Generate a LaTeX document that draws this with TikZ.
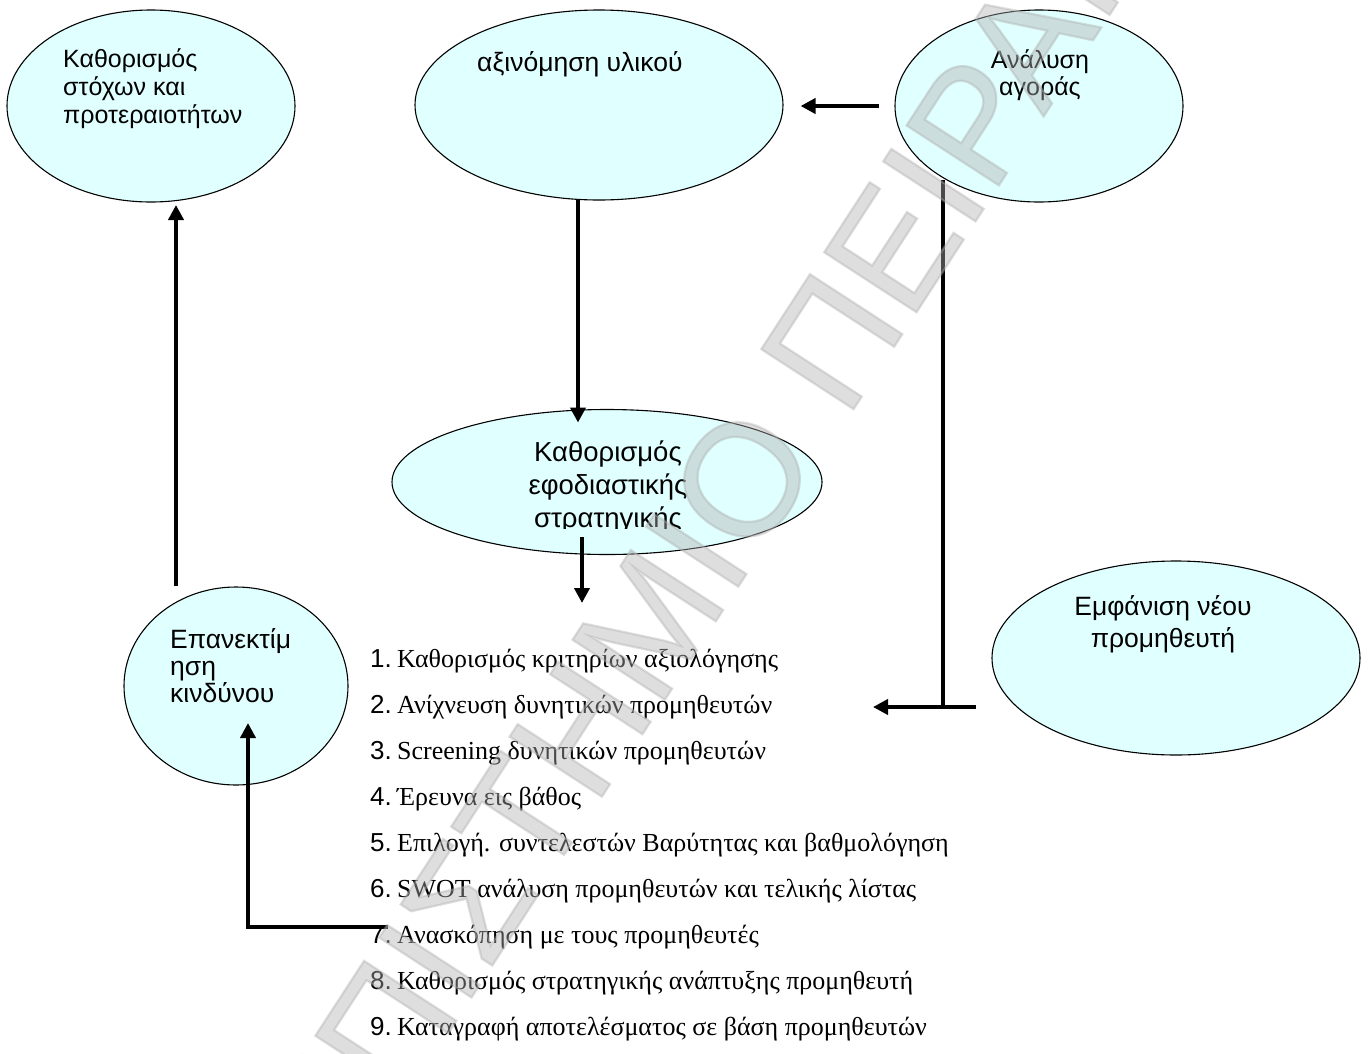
\documentclass[tikz,border=0pt]{standalone}
\usepackage{fontspec}
\setmainfont{Liberation Sans}
\newfontfamily\tmsfont{Liberation Serif}
\newfontfamily\wmfont{Liberation Sans}[FakeBold=1.4]
\usetikzlibrary{arrows.meta,shapes.geometric}
\definecolor{ellfill}{RGB}{224,255,255}
\tikzset{
  bubble/.style={ellipse, draw=black, line width=1.1pt, fill=ellfill, inner sep=0pt},
  btxt/.style={inner sep=0pt, font=\fontsize{25}{30}\selectfont},
  btxtl/.style={inner sep=0pt, font=\fontsize{26.5}{30}\selectfont},
  btxtb/.style={inner sep=0pt, font=\fontsize{27.5}{32}\selectfont},
  conn/.style={line width=4.5pt, -{Triangle[length=15pt,width=15pt]}},
  bar/.style={line width=4.5pt},
  litem/.style={inner sep=0pt, anchor=base west, font=\fontsize{26}{30}\selectfont},
  wmark/.style={text=black!31, text opacity=0.42, font=\wmfont\fontsize{160}{160}\selectfont, inner sep=0pt}
}
\newcommand{\lnum}[1]{\makebox[27pt][l]{#1}}
\begin{document}
\begin{tikzpicture}[x=1pt,y=-1pt]
\useasboundingbox (0,0) rectangle (1369,1053);
% ellipses
\node[bubble, minimum width=288pt, minimum height=192pt] (e1) at (151,106) {};
\node[bubble, minimum width=368pt, minimum height=190pt] (e2) at (599,105) {};
\node[bubble, minimum width=288pt, minimum height=192pt] (e3) at (1039,106) {};
\node[bubble, minimum width=430pt, minimum height=145pt] (e4) at (607,482) {};
\node[bubble, minimum width=224pt, minimum height=198pt] (e5) at (236,686) {};
\node[bubble, minimum width=368pt, minimum height=194pt] (e6) at (1176,658) {};
% ellipse texts
\node[btxt, anchor=base west] (t1a) at (63,67) {Καθορισμός};
\node[btxt, anchor=base west] (t1b) at (63,95) {στόχων και};
\node[btxt, anchor=base west] (t1c) at (63,123) {προτεραιοτήτων};
\node[btxtl, anchor=base west] (t2) at (477,71) {αξινόμηση υλικού};
\node[btxt, anchor=base] (t3a) at (1040,68) {Ανάλυση};
\node[btxt, anchor=base] (t3b) at (1040,95) {αγοράς};
\begin{scope}
\clip (380,400) rectangle (840,528);
\node[btxtb, anchor=base] (t4a) at (608,461) {Καθορισμός};
\node[btxtb, anchor=base] (t4b) at (608,494) {εφοδιαστικής};
\node[btxtb, anchor=base] (t4c) at (608,527) {στρατηγικής};
\end{scope}
\node[btxtl, anchor=base west] (t5a) at (170,648) {Επανεκτίμ};
\node[btxtl, anchor=base west] (t5b) at (170,675) {ηση};
\node[btxtl, anchor=base west] (t5c) at (170,702) {κινδύνου};
\node[btxtl, anchor=base] (t6a) at (1163,615) {Εμφάνιση νέου};
\node[btxtl, anchor=base] (t6b) at (1163,647) {προμηθευτή};
% list
\node[litem] (i1) at (370,667) {\lnum{1.}{\tmsfont Καθορισμός κριτηρίων αξιολόγησης}};
\node[litem] (i2) at (370,713) {\lnum{2.}{\tmsfont Ανίχνευση δυνητικών προμηθευτών}};
\node[litem] (i3) at (370,759) {\lnum{3.}{\tmsfont Screening δυνητικών προμηθευτών}};
\node[litem] (i4) at (370,805) {\lnum{4.}{\tmsfont Έρευνα εις βάθος}};
\node[litem] (i5) at (370,851) {\lnum{5.}{\tmsfont Επιλογή. συντελεστών Βαρύτητας και βαθμολόγηση}};
\node[litem] (i6) at (370,897) {\lnum{6.}{\tmsfont SWOT ανάλυση προμηθευτών και τελικής λίστας}};
\node[litem] (i7) at (370,943) {\lnum{7.}{\tmsfont Ανασκόπηση με τους προμηθευτές}};
\node[litem] (i8) at (370,989) {\lnum{8.}{\tmsfont Καθορισμός στρατηγικής ανάπτυξης προμηθευτή}};
\node[litem] (i9) at (370,1035) {\lnum{9.}{\tmsfont Καταγραφή αποτελέσματος σε βάση προμηθευτών}};
% connectors
\draw[conn, shorten <=15pt, shorten >=17pt] (e3.west) -- (e3.west -| e2.east);
\draw[conn] (e2.south) ++(-21,-1) -- ++(0,223);
\coordinate (lt) at (582,603);
\draw[conn] (e4.center) ++(-25,55) -- (lt);
\draw[bar] (e3.center) ++(-96,74) -- ++(0,529);
\draw[conn] (e6.center) ++(-200,49) -- ++(-103,0);
\draw[conn] (e5.center) ++(-60,-100) -- ++(0,-381);
\coordinate (l7) at (388,927);
\draw[conn] (l7) -- ++(-140,0) -- ++(0,-204);
% watermark
\node[wmark, rotate=57] (wm) at (625,660) {ΠΑΝΕΠΙΣΤΗΜΙΟ ΠΕΙΡΑΙΑ};
\end{tikzpicture}
\end{document}
